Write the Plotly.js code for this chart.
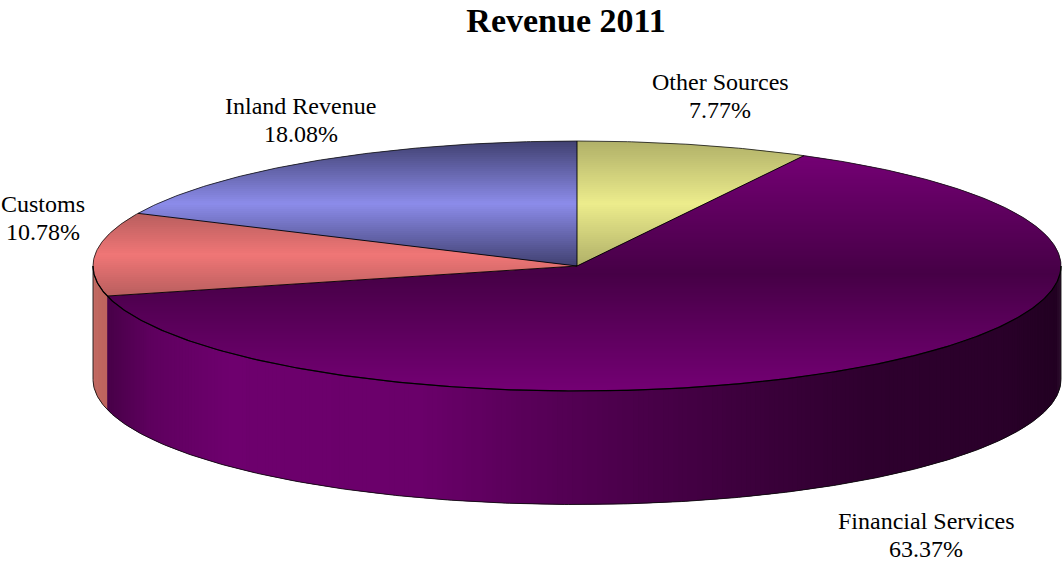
<!DOCTYPE html>
<html>
<head>
<meta charset="utf-8">
<script src="https://cdn.plot.ly/plotly-3.0.1.min.js"></script>
<style>html,body{margin:0;padding:0;background:#fff}#chart{width:1062px;height:561px}</style>
</head>
<body>
<div id="chart"></div>
<script>
// Data, in drawing order (clockwise from 12 o'clock)
const categories = ["Other Sources", "Financial Services", "Customs", "Inland Revenue"];
const shares = [7.77, 63.37, 10.78, 18.08];
const chartTitle = "Revenue 2011";

// Style
const edgeColors = [[176,176,104],[116,0,116],[184,94,94],[64,64,112]];
const midColors  = [[236,236,140],[70,0,70],[240,118,118],[140,140,234]];
const labelAnchors = [[720,96],[926,535],[43,218],[300.5,120]];
const labelGap = 28;
const frontStops = [[93,[192,104,96]],[107,[190,100,94]]];
const purpleSide = [[107,[72,0,72]],[150,[94,0,94]],[230,[110,0,110]],[300,[108,0,108]],[420,[106,0,106]],
  [520,[90,0,90]],[577,[82,0,82]],[650,[72,0,72]],[750,[60,0,60]],[870,[46,0,46]],[1000,[42,0,42]],[1062,[33,0,33]]];

// Pie geometry
const cx = 577, cy = 266, rx = 484, ry = 125, depth = 113.5;
const serif = "'Liberation Serif','Times New Roman',serif";

const rad = d => d * Math.PI / 180;
const px = a => cx + rx * Math.sin(rad(a));
const py = a => cy - ry * Math.cos(rad(a));
const mix = (p, q, t) => p.map((v, i) => Math.round(v + (q[i] - v) * t));
const css = c => `rgb(${c[0]},${c[1]},${c[2]})`;
const total = shares.reduce((s, v) => s + v, 0);

const bounds = [];
let run = 0;
shares.forEach(v => { const s = run / total * 360; run += v; bounds.push([s, run / total * 360]); });

function arc(a0, a1, step) {
  const n = Math.max(1, Math.ceil(Math.abs(a1 - a0) / step));
  const out = [];
  for (let i = 0; i <= n; i++) out.push(a0 + (a1 - a0) * i / n);
  return out;
}

function clip(poly, yLim, keepBelow) {
  const out = [];
  const inside = p => keepBelow ? p[1] >= yLim : p[1] <= yLim;
  for (let i = 0; i < poly.length; i++) {
    const a = poly[i], b = poly[(i + 1) % poly.length];
    const ia = inside(a), ib = inside(b);
    if (ia) out.push(a);
    if (ia !== ib) {
      const t = (yLim - a[1]) / (b[1] - a[1]);
      out.push([a[0] + (b[0] - a[0]) * t, yLim]);
    }
  }
  return out;
}

const traces = [];
function fillPoly(pts, color) {
  const xs = pts.map(p => p[0]), ys = pts.map(p => p[1]);
  xs.push(xs[0]); ys.push(ys[0]);
  traces.push({x: xs, y: ys, mode: "lines", fill: "toself", fillcolor: color,
    line: {width: 0}, hoverinfo: "skip", showlegend: false});
}
function stroke(xs, ys, color, width) {
  traces.push({x: xs, y: ys, mode: "lines", line: {color: color, width: width},
    hoverinfo: "skip", showlegend: false});
}
function sideColor(x, stops) {
  for (let i = 0; i < stops.length - 1; i++) {
    if (x <= stops[i + 1][0]) {
      const t = Math.max(0, (x - stops[i][0]) / (stops[i + 1][0] - stops[i][0]));
      return mix(stops[i][1], stops[i + 1][1], t);
    }
  }
  return stops[stops.length - 1][1];
}

// Front wall: only the part of the rim that faces the viewer (90 to 270 degrees).
// Painted right to left; each strip runs under the next one so no seams show.
bounds.forEach((b, idx) => {
  const a0 = Math.max(b[0], 90), a1 = Math.min(b[1], 270);
  if (a1 <= a0) return;
  const steps = arc(a0, a1, 0.6);
  for (let i = 0; i < steps.length - 1; i++) {
    const s = steps[i], e = steps[i + 1], over = steps[Math.min(i + 2, steps.length - 1)];
    const mx = (px(s) + px(e)) / 2;
    const col = idx === 1 ? sideColor(mx, purpleSide) : sideColor(mx, frontStops);
    fillPoly([[px(s), py(s)], [px(e), py(e)], [px(over), py(over)],
              [px(over), py(over) + depth], [px(e), py(e) + depth], [px(s), py(s) + depth]], css(col));
  }
});

// Top face: each slice shaded in horizontal bands, mirrored about the middle of its own height.
// Bands are painted top to bottom; each one runs under the next so no seams show.
bounds.forEach((b, idx) => {
  const poly = [[cx, cy]];
  arc(b[0], b[1], 0.5).forEach(a => poly.push([px(a), py(a)]));
  const ys = poly.map(p => p[1]);
  const yMin = Math.min(...ys), yMax = Math.max(...ys), mid = (yMin + yMax) / 2, half = (yMax - yMin) / 2;
  for (let y = Math.floor(yMin); y < yMax; y += 2) {
    const band = clip(clip(poly, y, true), y + 4, false);
    if (band.length < 3) continue;
    const t = Math.abs(y + 1 - mid) / half;
    fillPoly(band, css(mix(midColors[idx], edgeColors[idx], Math.min(1, t))));
  }
});

// Outlines
const rim = arc(0, 360, 0.5);
stroke(rim.map(px), rim.map(py), "rgba(20,20,20,0.8)", 1);
const frontRim = arc(90, 270, 0.5);
stroke(frontRim.map(px), frontRim.map(py), "#000", 1.2);
bounds.forEach(b => stroke([cx, px(b[0])], [cy, py(b[0])], "rgba(0,0,0,0.9)", 1));
stroke(frontRim.map(px), frontRim.map(a => py(a) + depth), "rgba(10,10,10,0.85)", 1);
stroke([px(90), px(90)], [py(90), py(90) + depth], "rgba(10,10,10,0.85)", 1);
stroke([px(270), px(270)], [py(270), py(270) + depth], "rgba(10,10,10,0.85)", 1);

// One annotation per text line, to keep the tight line spacing of the reference
const labelFont = {family: serif, size: 24, color: "#000"};
const annotations = [];
categories.forEach((c, i) => {
  [c, shares[i].toFixed(2) + "%"].forEach((t, line) => annotations.push({
    x: labelAnchors[i][0], y: labelAnchors[i][1] + (line - 0.5) * labelGap, xref: "x", yref: "y",
    text: t, showarrow: false, xanchor: "center", yanchor: "middle", font: labelFont
  }));
});

const layout = {
  width: 1062, height: 561, margin: {l: 0, r: 0, t: 0, b: 0},
  paper_bgcolor: "#fff", plot_bgcolor: "#fff", showlegend: false, hovermode: false,
  title: {text: "<b>" + chartTitle + "</b>", x: 566 / 1062, xanchor: "center", y: 1 - 20 / 561, yanchor: "middle",
    font: {family: serif, size: 34, color: "#000"}},
  xaxis: {range: [0, 1062], visible: false, fixedrange: true},
  yaxis: {range: [561, 0], visible: false, fixedrange: true},
  annotations: annotations
};
Plotly.newPlot("chart", traces, layout, {displayModeBar: false, staticPlot: true});
</script>
</body>
</html>
